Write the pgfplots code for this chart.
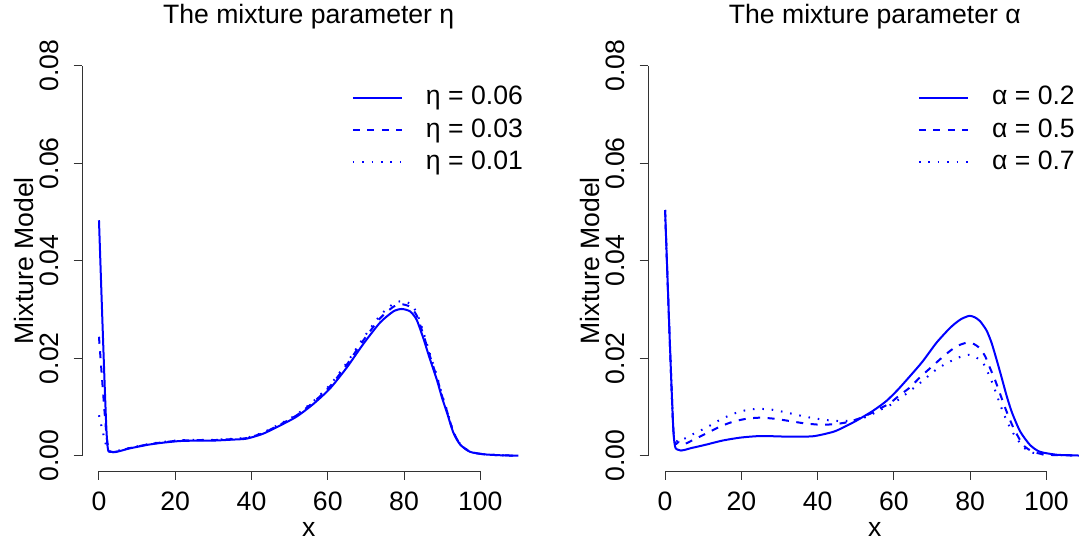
\documentclass[border=0pt]{standalone}
\usepackage{fontspec}
\setmainfont{Liberation Sans}
\usepackage{pgfplots}
\pgfplotsset{compat=1.18}
\newcommand{\rf}{\fontsize{13.3pt}{16pt}\selectfont}
\pgfplotsset{
  rstyle/.style={
    scale only axis, width=226.5pt, height=210.6pt,
    xmin=-4.4, xmax=114.4, ymin=-0.0032, ymax=0.0832,
    axis line style={draw=none},
    axis x line*=bottom, axis y line*=left,
    xtick={0,20,40,60,80,100}, xticklabels={0,20,40,60,80,100},
    ytick={0,0.02,0.04,0.06,0.08}, yticklabels={0.00,0.02,0.04,0.06,0.08},
    scaled y ticks=false, scaled x ticks=false,
    tick align=outside, major tick length=4.3pt,
    tick style={black!80, line width=0.5pt},
    ticklabel style={font=\rf, inner sep=0pt},
    xticklabel style={anchor=base, yshift=-15.35pt},
    yticklabel style={xshift=-7.6pt, rotate=90, anchor=base},
    clip=false, no markers,
    title style={font=\rf, anchor=base, yshift=0pt, at={(axis description cs:0.5,1.0358)}},
    xlabel style={font=\rf, anchor=base, at={(axis description cs:0.5,-0.1548)}},
    ylabel style={font=\rf, anchor=base, rotate=0, at={(axis description cs:-0.1086,0.5)}},
    xlabel={x}, ylabel={Mixture Model},
    every axis plot/.append style={blue, line width=1pt, line join=round, smooth, tension=0.4},
    legend style={draw=none, fill=none, at={(axis cs:66.3,0.0761)}, anchor=north west,
      font=\rf, row sep=3.15pt, inner sep=0pt, outer sep=0pt,
      nodes={inner sep=0pt, text height=10pt, text depth=3pt}},
    legend cell align=left,
    legend image code/.code={\draw[##1, sharp plot] (0pt,0pt) -- (24.5pt,0pt); \path[draw=none] (0pt,0pt) -- (36.6pt,0pt);},
  },
  rdash/.style={dash pattern=on 3.5pt off 3.75pt},
  rdot/.style={dash pattern=on 0.8pt off 3.9pt},
}
\begin{document}
\begin{tikzpicture}
\useasboundingbox (0,0) rectangle (539.5pt,271.5pt);
\clip (0,0) rectangle (539.5pt,271.5pt);
\begin{axis}[rstyle, at={(41.1pt,35.85pt)}, anchor=south west,
  title={The mixture parameter η}]
\draw[black!80, line width=0.5pt] (axis cs:0,-0.0032) -- (axis cs:100,-0.0032);
\draw[black!80, line width=0.5pt] (axis cs:-4.4,0) -- (axis cs:-4.4,0.08);
\addplot coordinates {(0,0.0483) (2.0,0.0046) (3.3,0.0008) (8,0.0015) (12.5,0.0022) (16,0.0026) (21,0.0030) (26,0.0031) (30,0.0031) (35,0.0033) (38.7,0.0035) (43,0.0045) (47.5,0.0062) (51.8,0.0080) (56.2,0.0106) (60.6,0.0138) (65,0.0181) (69.3,0.0229) (73.7,0.0273) (77.2,0.0296) (79.4,0.0301) (81.6,0.0296) (83.3,0.0279) (85.1,0.0240) (86.8,0.0198) (88.6,0.0156) (90,0.0118) (91.2,0.0090) (92.9,0.0048) (94.7,0.0023) (97.3,0.0008) (100.8,0.0003) (105,0.0001) (110,0.0000)};
\addlegendentry{η = 0.06}
\addplot[rdash] coordinates {(0,0.0244) (2.0,0.0040) (3.3,0.0008) (8,0.00155) (12.5,0.00227) (16,0.00268) (21,0.00310) (26,0.00320) (30,0.00320) (35,0.00341) (38.7,0.00361) (43,0.00464) (47.5,0.00640) (51.8,0.00826) (56.2,0.01094) (60.6,0.01424) (65,0.01868) (69.3,0.02363) (73.7,0.02817) (77.2,0.03055) (79.4,0.03106) (81.6,0.03055) (83.3,0.02879) (85.1,0.02477) (86.8,0.02043) (88.6,0.01610) (90,0.01218) (91.2,0.00929) (92.9,0.00495) (94.7,0.00237) (97.3,0.00083) (100.8,0.00031) (105,0.0001) (110,0)};
\addlegendentry{η = 0.03}
\addplot[rdot] coordinates {(0,0.0083) (2.0,0.0018) (3.3,0.0008) (8,0.00158) (12.5,0.00232) (16,0.00274) (21,0.00316) (26,0.00326) (30,0.00326) (35,0.00347) (38.7,0.00369) (43,0.00474) (47.5,0.00653) (51.8,0.00842) (56.2,0.01116) (60.6,0.01453) (65,0.01906) (69.3,0.02411) (73.7,0.02875) (77.2,0.03117) (79.4,0.03170) (81.6,0.03117) (83.3,0.02938) (85.1,0.02527) (86.8,0.02085) (88.6,0.01643) (90,0.01243) (91.2,0.00948) (92.9,0.00505) (94.7,0.00242) (97.3,0.00084) (100.8,0.00032) (105,0.0001) (110,0)};
\addlegendentry{η = 0.01}
\end{axis}
\begin{axis}[rstyle, at={(324.15pt,35.85pt)}, anchor=south west,
  title={The mixture parameter α}]
\draw[black!80, line width=0.5pt] (axis cs:0,-0.0032) -- (axis cs:100,-0.0032);
\draw[black!80, line width=0.5pt] (axis cs:-4.4,0) -- (axis cs:-4.4,0.08);
\addplot coordinates {(0,0.0504) (2.15,0.0056) (3.5,0.0012) (7,0.0016) (10.9,0.0023) (15,0.0031) (19.6,0.0037) (24,0.0040) (28,0.0040) (32.8,0.0039) (38.9,0.0040) (44.1,0.0049) (47,0.0059) (50.2,0.0072) (54.5,0.0092) (58,0.0112) (61,0.0135) (64.2,0.0163) (67.5,0.0193) (71.2,0.0232) (74.7,0.0262) (76.5,0.0274) (77.8,0.0281) (79.8,0.0287) (81.2,0.0284) (82.6,0.0276) (84.3,0.0257) (85.6,0.0232) (86.9,0.0198) (88.2,0.0162) (89.6,0.0122) (91,0.0088) (93.1,0.0050) (95.7,0.0022) (98.3,0.0008) (102.7,0.0002) (106,0.0001) (110,0.0000)};
\addlegendentry{α = 0.2}
\addplot[rdash] coordinates {(0,0.0504) (2.15,0.0056) (3.5,0.0028) (4.8,0.0023) (7.5,0.0033) (10.9,0.0046) (14.5,0.0060) (17.9,0.0070) (21.5,0.0076) (24.9,0.0078) (28.5,0.0076) (32.8,0.0071) (36,0.0067) (39.8,0.0064) (43,0.0064) (45.8,0.0066) (48.5,0.0070) (51.1,0.0077) (54,0.0087) (56.4,0.0097) (59,0.0108) (61.5,0.0124) (64.2,0.0140) (67,0.0162) (70.3,0.0185) (73,0.0204) (75.6,0.0220) (77.5,0.0228) (79.3,0.0232) (81,0.0229) (82.6,0.0220) (84,0.0203) (85.2,0.0180) (86.5,0.0156) (87.8,0.0128) (89,0.0102) (90.2,0.0078) (91.5,0.0055) (93.9,0.0022) (96.5,0.0008) (100,0.0002) (105,0.0001) (110,0)};
\addlegendentry{α = 0.5}
\addplot[rdot] coordinates {(0,0.0504) (2.15,0.0056) (3.5,0.0034) (4.8,0.0034) (7.5,0.0045) (10.9,0.0058) (14.5,0.0074) (17.9,0.0086) (21,0.0093) (24,0.0096) (27.5,0.0095) (31,0.0090) (35,0.0083) (38.9,0.0077) (42.5,0.0073) (45.8,0.0071) (48.5,0.0072) (51.1,0.0075) (54,0.0084) (56.4,0.0094) (59.8,0.0107) (63.4,0.0128) (67,0.0150) (70.3,0.0172) (73,0.0186) (76.5,0.0200) (79.5,0.0207) (81.5,0.0202) (83.4,0.0190) (84.8,0.0168) (86.1,0.0144) (87.4,0.0115) (88.7,0.0088) (90,0.0065) (91.3,0.0046) (93.9,0.0018) (96.5,0.0006) (100,0.0002) (105,0.0001) (110,0)};
\addlegendentry{α = 0.7}
\end{axis}
\end{tikzpicture}
\end{document}
